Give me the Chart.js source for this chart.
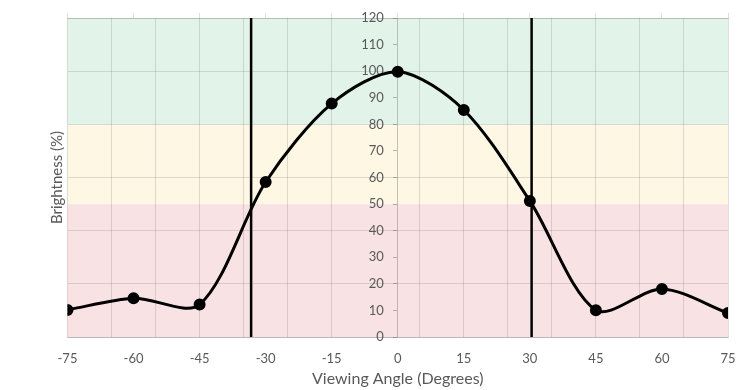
<!DOCTYPE html>
<html>
<head>
<meta charset="utf-8">
<script src="https://cdn.jsdelivr.net/npm/chart.js@4"></script>
<style>
  html, body { margin: 0; padding: 0; background: #fff; }
  #wrap { width: 753px; height: 390px; }
</style>
</head>
<body>
<div id="wrap"><canvas id="canvas1" width="753" height="390"></canvas></div>
<script>
// measured points
const angles = [-75, -60, -45, -30, -15, 0, 15, 30, 45, 60, 75];
const brightness = [10.2, 14.6, 12.2, 58.3, 87.8, 99.8, 85.4, 51.2, 10.1, 18.1, 9.0];

// vertical marker lines (degrees)
const markerAngles = [-33.3, 30.4];

// background bands (brightness %)
const bandFrom = [0, 50, 80];
const bandTo = [50, 80, 120];
const bandColors = ['#f8e2e4', '#fef7e4', '#e2f4ea'];

// ticks
const xLabelTicks = [-75, -60, -45, -30, -15, 0, 15, 30, 45, 60, 75];
const xGridTicks = [-75, -65, -55, -45, -35, -25, -15, 0, 5, 15, 25, 35, 45, 55, 65, 75];

const gridColor = 'rgba(110,110,110,0.22)';
const textColor = '#595959';
const fontFamily = 'Lato, "Open Sans", sans-serif';

const bandPlugin = {
    id: 'bands',
    beforeDraw(chart) {
        const {ctx, chartArea, scales} = chart;
        ctx.save();
        for (let i = 0; i < bandFrom.length; i++) {
            const top = scales.y.getPixelForValue(bandTo[i]);
            const bottom = scales.y.getPixelForValue(bandFrom[i]);
            ctx.fillStyle = bandColors[i];
            ctx.fillRect(chartArea.left, top, chartArea.right - chartArea.left, bottom - top);
        }
        ctx.restore();
    }
};

const allXTicks = Array.from(new Set(xLabelTicks.concat(xGridTicks))).sort((a, b) => a - b);

const markerSets = markerAngles.map(a => ({
    data: [{x: a, y: 0}, {x: a, y: 120}],
    borderColor: '#000',
    borderWidth: 2.5,
    pointRadius: 0,
    tension: 0
}));

// center axis labels sit right on the line, push them left a bit
function shiftCenterLabels(axis) {
    if (axis._shifted) return;
    axis._shifted = true;
    const orig = axis._computeLabelItems.bind(axis);
    axis._computeLabelItems = area => orig(area).map(item => {
        item.options.translation[0] -= 14;
        return item;
    });
}

const ctx1 = document.getElementById('canvas1').getContext('2d');

const myChart1 = new Chart(ctx1, {
    type: 'line',
    data: {
        datasets: [{
            label: 'Brightness',
            data: angles.map((a, i) => ({x: a, y: brightness[i]})),
            borderColor: '#000',
            backgroundColor: '#000',
            borderWidth: 3,
            pointRadius: 4.5,
            pointBackgroundColor: '#000',
            tension: 0.3
        }].concat(markerSets)
    },
    options: {
        responsive: false,
        animation: false,
        layout: { padding: { left: 44, right: 25, top: 13, bottom: 0 } },
        plugins: { legend: { display: false }, tooltip: { enabled: false } },
        scales: {
            x: {
                type: 'linear',
                position: 'bottom',
                min: -75,
                max: 75,
                afterBuildTicks: axis => { axis.ticks = allXTicks.map(v => ({value: v})); },
                afterFit: axis => { axis.height = 53; },
                ticks: {
                    autoSkip: false,
                    maxRotation: 0,
                    padding: 14,
                    color: textColor,
                    font: { family: fontFamily, size: 13 },
                    callback: v => (xLabelTicks.includes(v) ? String(v) : '')
                },
                grid: {
                    drawTicks: false,
                    color: c => (c.tick && xGridTicks.includes(c.tick.value) ? gridColor : 'rgba(0,0,0,0)')
                },
                border: { display: true, color: 'rgba(110,110,110,0.35)' },
                title: {
                    display: true,
                    text: 'Viewing Angle (Degrees)',
                    color: textColor,
                    font: { family: fontFamily, size: 16 },
                    padding: { top: 0, bottom: 2 }
                }
            },
            xt: {
                type: 'linear',
                position: 'top',
                min: -75,
                max: 75,
                afterBuildTicks: axis => { axis.ticks = xLabelTicks.map(v => ({value: v})); },
                ticks: { display: false },
                grid: { drawOnChartArea: false, tickLength: 5, color: gridColor },
                border: { display: true, color: gridColor }
            },
            y: {
                position: 'left',
                min: 0,
                max: 120,
                ticks: { display: false, stepSize: 20 },
                grid: { color: gridColor, drawTicks: false },
                border: { display: false },
                afterFit: axis => { axis.width = 23.5; },
                title: {
                    display: true,
                    text: 'Brightness (%)',
                    color: textColor,
                    font: { family: fontFamily, size: 15 },
                    padding: { top: 4, bottom: 0 }
                }
            },
            yc: {
                position: { x: 0 },
                min: 0,
                max: 120,
                afterUpdate: shiftCenterLabels,
                ticks: {
                    stepSize: 10,
                    color: textColor,
                    font: { family: fontFamily, size: 13 }
                },
                grid: { drawOnChartArea: false, tickLength: 4, color: 'rgba(110,110,110,0.5)' },
                border: { display: true, color: gridColor }
            }
        }
    },
    plugins: [bandPlugin]
});
</script>
</body>
</html>
